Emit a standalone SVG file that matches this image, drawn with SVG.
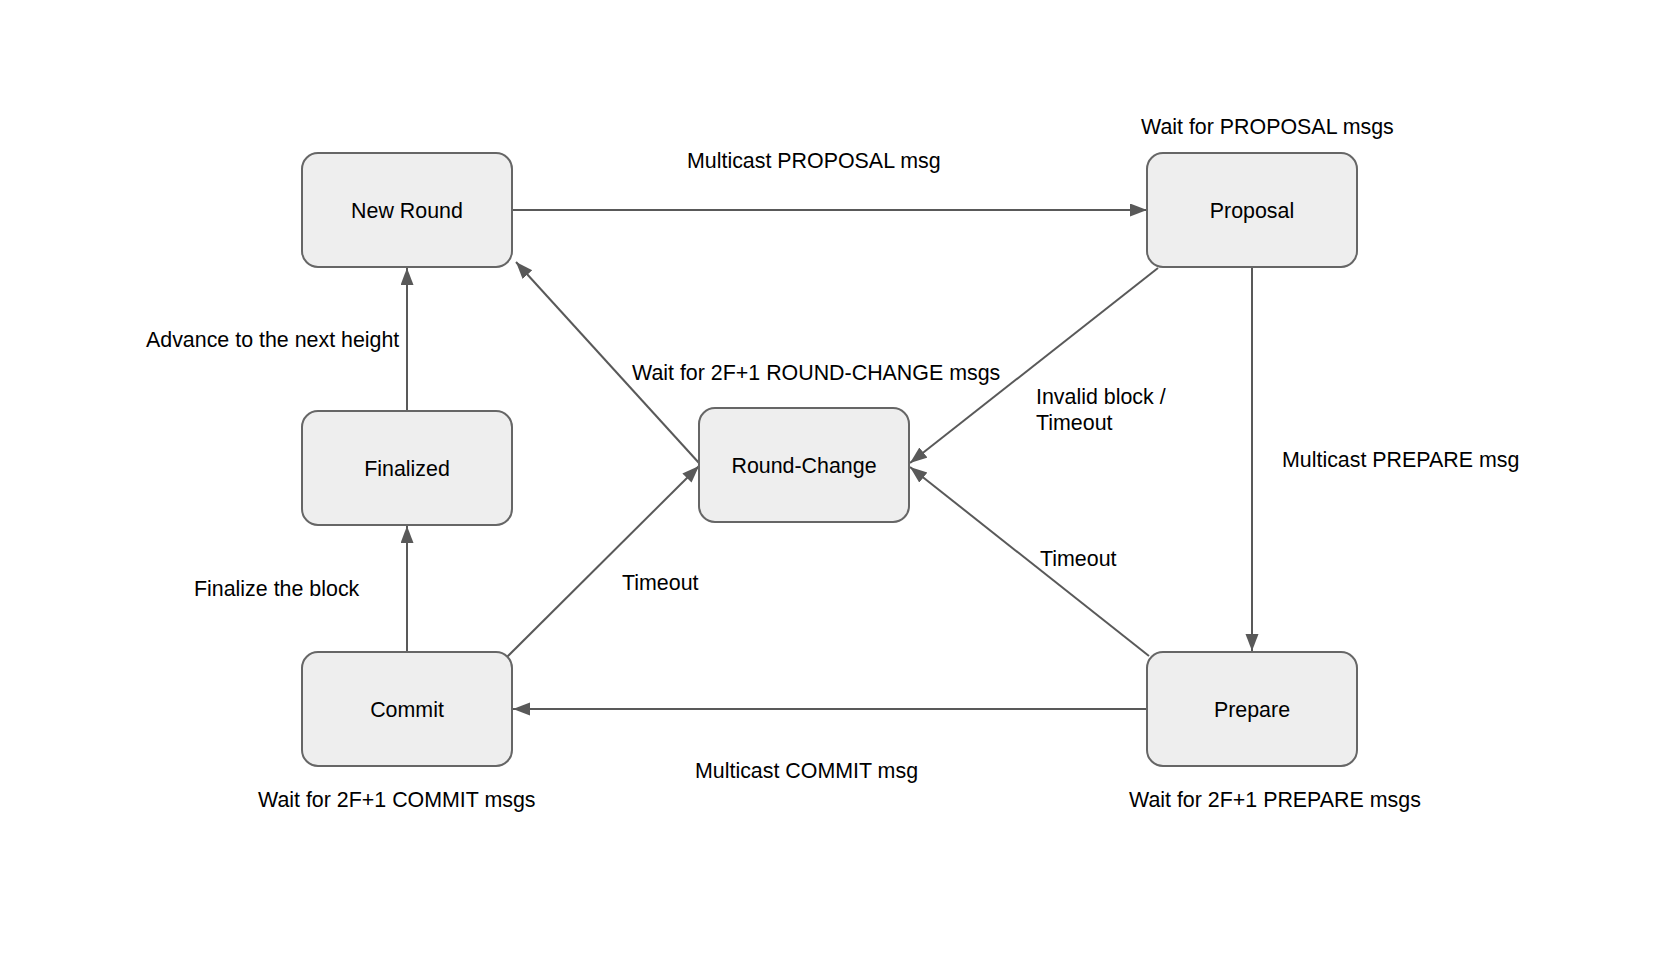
<svg xmlns="http://www.w3.org/2000/svg" width="1673" height="955" viewBox="0 0 1673 955">
<style>
.node rect{fill:#eeeeee;stroke:#666666;stroke-width:2}
text{font-family:"Liberation Sans",Arial,sans-serif;font-size:21.4px;fill:#000}
.nt{text-anchor:middle}
.edge{stroke:#595959;stroke-width:2;fill:none;marker-end:url(#arr)}
</style>
<defs>
<marker id="arr" markerUnits="userSpaceOnUse" markerWidth="18" markerHeight="14" refX="17" refY="6.5" orient="auto">
<path d="M0,0 L17,6.5 L0,13 z" fill="#595959"/>
</marker>
</defs>
<rect width="1673" height="955" fill="#ffffff"/>
<g id="connectors">
<line class="edge" x1="512" y1="210" x2="1147" y2="210"/>
<line class="edge" x1="1252" y1="267" x2="1252" y2="651"/>
<line class="edge" x1="1147" y1="709" x2="513" y2="709"/>
<line class="edge" x1="407" y1="652" x2="407" y2="526"/>
<line class="edge" x1="407" y1="411" x2="407" y2="268"/>
<line class="edge" x1="699" y1="463" x2="516" y2="262"/>
<line class="edge" x1="1158" y1="268" x2="910" y2="463"/>
<line class="edge" x1="1149" y1="656" x2="910" y2="467"/>
<line class="edge" x1="507" y1="657" x2="699" y2="466"/>
</g>
<g id="labels">
<text x="1141" y="134">Wait for PROPOSAL msgs</text>
<text x="687" y="168">Multicast PROPOSAL msg</text>
<text x="146" y="347">Advance to the next height</text>
<text x="632" y="380">Wait for 2F+1 ROUND-CHANGE msgs</text>
<text x="1036" y="404">Invalid block /</text>
<text x="1036" y="430">Timeout</text>
<text x="1282" y="467">Multicast PREPARE msg</text>
<text x="1040" y="566">Timeout</text>
<text x="622" y="590">Timeout</text>
<text x="194" y="596">Finalize the block</text>
<text x="695" y="778">Multicast COMMIT msg</text>
<text x="258" y="807">Wait for 2F+1 COMMIT msgs</text>
<text x="1129" y="807">Wait for 2F+1 PREPARE msgs</text>
</g>
<g id="new-round" class="node"><rect x="302" y="153" width="210" height="114" rx="16"/><text class="nt" x="407" y="218">New Round</text></g>
<g id="proposal" class="node"><rect x="1147" y="153" width="210" height="114" rx="16"/><text class="nt" x="1252" y="218">Proposal</text></g>
<g id="round-change" class="node"><rect x="699" y="408" width="210" height="114" rx="16"/><text class="nt" x="804" y="473">Round-Change</text></g>
<g id="finalized" class="node"><rect x="302" y="411" width="210" height="114" rx="16"/><text class="nt" x="407" y="476">Finalized</text></g>
<g id="commit" class="node"><rect x="302" y="652" width="210" height="114" rx="16"/><text class="nt" x="407" y="717">Commit</text></g>
<g id="prepare" class="node"><rect x="1147" y="652" width="210" height="114" rx="16"/><text class="nt" x="1252" y="717">Prepare</text></g>
</svg>
